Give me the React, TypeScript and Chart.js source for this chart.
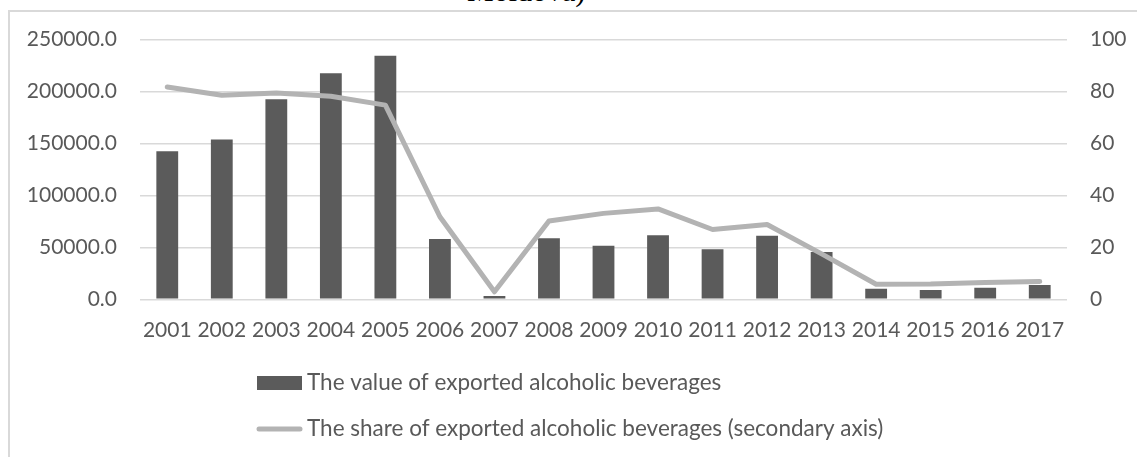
import React, { useEffect, useRef } from "react";
import { Chart, registerables } from "chart.js";

Chart.register(...registerables);

const years = ["2001","2002","2003","2004","2005","2006","2007","2008","2009","2010","2011","2012","2013","2014","2015","2016","2017"];
const exportValues = [142600,153800,192600,217600,234600,58000,3200,58700,51500,61800,48100,61200,45500,10200,8900,11200,13700];
const exportShares = [81.8,78.6,79.5,78.2,74.8,31.8,2.9,30.2,33.1,34.8,26.9,28.8,17.5,5.8,5.9,6.5,6.9];
const legendLabels = [
  "The value of exported alcoholic beverages",
  "The share of exported alcoholic beverages (secondary axis)",
];

const FONT = "Lato, 'Noto Sans', sans-serif";
const TEXT = "#595959";
const BAR = "#5b5b5b";
const LINE = "#b3b3b3";
const GRID = "#d9d9d9";
const TICK_SIZE = 21;
const LEGEND_SIZE = 22.5;

const legendPlugin = {
  id: "customLegend",
  afterDraw(chart: any) {
    const ctx = chart.ctx;
    ctx.save();
    ctx.font = `${LEGEND_SIZE}px ${FONT}`;
    ctx.fillStyle = TEXT;
    ctx.textBaseline = "middle";
    ctx.textAlign = "left";
    const x0 = 257;
    const boxW = 45;
    const y1 = 383;
    ctx.fillStyle = BAR;
    ctx.fillRect(x0, y1 - 7, boxW, 14);
    ctx.fillStyle = TEXT;
    ctx.fillText(legendLabels[0], x0 + boxW + 5, y1);
    const y2 = 429;
    ctx.strokeStyle = LINE;
    ctx.lineWidth = 5;
    ctx.lineCap = "round";
    ctx.beginPath();
    ctx.moveTo(x0 + 2, y2);
    ctx.lineTo(x0 + boxW - 2, y2);
    ctx.stroke();
    ctx.fillText(legendLabels[1], x0 + boxW + 5, y2);
    ctx.restore();
  },
};

export default function App() {
  const ref = useRef<HTMLCanvasElement | null>(null);
  useEffect(() => {
    if (!ref.current) return;
    const chart = new Chart(ref.current, {
      type: "bar",
      data: {
        labels: years,
        datasets: [
          {
            type: "line",
            label: legendLabels[1],
            data: exportShares,
            yAxisID: "y2",
            borderColor: LINE,
            backgroundColor: LINE,
            borderWidth: 5,
            pointRadius: 0,
            tension: 0,
            borderCapStyle: "round",
            borderJoinStyle: "round",
            order: 0,
          } as any,
          {
            type: "bar",
            label: legendLabels[0],
            data: exportValues,
            yAxisID: "y",
            backgroundColor: BAR,
            borderWidth: 0,
            categoryPercentage: 1,
            barPercentage: 0.4,
            order: 1,
          } as any,
        ],
      },
      options: {
        responsive: false,
        animation: false,
        maintainAspectRatio: false,
        layout: { padding: { top: 39.7, left: 0, right: 0, bottom: 0 } },
        plugins: {
          legend: { display: false },
          tooltip: { enabled: false },
          title: { display: false },
        },
        scales: {
          x: {
            grid: { display: false, drawTicks: false },
            border: { display: false },
            ticks: { color: TEXT, font: { family: FONT, size: TICK_SIZE }, padding: 18, maxRotation: 0, autoSkip: false },
            afterFit: (s: any) => { s.height = 157.7; },
          },
          y: {
            position: "left",
            min: 0,
            max: 250000,
            grid: { color: GRID, lineWidth: 1.5, drawTicks: false },
            border: { display: false },
            ticks: {
              stepSize: 50000,
              color: TEXT,
              font: { family: FONT, size: TICK_SIZE },
              padding: 23,
              callback: (v: any) => Number(v).toFixed(1),
            },
            afterFit: (s: any) => { s.width = 140; },
          },
          y2: {
            position: "right",
            min: 0,
            max: 100,
            grid: { drawOnChartArea: false, drawTicks: false },
            border: { display: false },
            ticks: { stepSize: 20, color: TEXT, font: { family: FONT, size: TICK_SIZE }, padding: 23 },
            afterFit: (s: any) => { s.width = 70; },
          },
        },
      } as any,
      plugins: [legendPlugin],
    });
    return () => chart.destroy();
  }, []);

  return (
    <div style={{ position: "fixed", left: 0, top: 0, width: 1137, height: 457, overflow: "hidden", background: "#fff" }}>
      <div style={{ position: "absolute", left: 8, top: 10, width: 1200, height: 500, borderLeft: `2px solid ${GRID}`, borderTop: `2px solid ${GRID}`, boxSizing: "border-box" }} />
      <div style={{ position: "absolute", left: 467, top: -24, fontFamily: "'Liberation Serif', 'Times New Roman', serif", fontSize: 30, lineHeight: "30px", color: "#000", whiteSpace: "nowrap" }}>Moldova)</div>
      <canvas ref={ref} width={1137} height={457} style={{ position: "absolute", left: 0, top: 0, width: 1137, height: 457 }} />
    </div>
  );
}
